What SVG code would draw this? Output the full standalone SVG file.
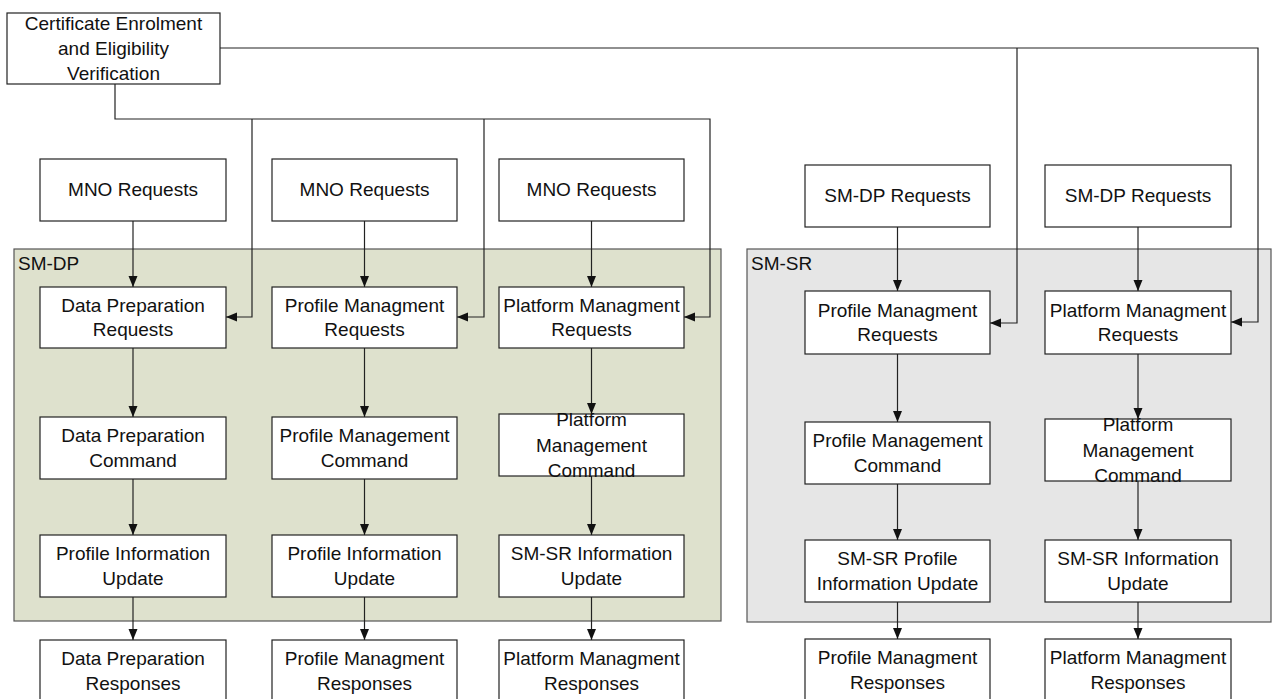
<svg xmlns="http://www.w3.org/2000/svg" width="1279" height="699" viewBox="0 0 1279 699">
<defs>
<style>
.box{fill:#fff;stroke:#222;stroke-width:1.2}
.t{font-family:"Liberation Sans",Arial,sans-serif;font-size:19px;fill:#111;text-anchor:middle}
.lbl{font-family:"Liberation Sans",Arial,sans-serif;font-size:19px;fill:#111}
.ln{fill:none;stroke:#222;stroke-width:1.2}
</style>
<marker id="ah" markerUnits="userSpaceOnUse" markerWidth="11" markerHeight="10" refX="11" refY="5" orient="auto">
<path d="M0,0.5 L11,5 L0,9.5 z" fill="#111"/>
</marker>
</defs>
<rect width="1279" height="699" fill="#fff"/>

<g id="smdp-container">
<rect x="14" y="249" width="707" height="372" fill="#dee1cd" stroke="#555" stroke-width="1.2"/>
<text class="lbl" x="18" y="270">SM-DP</text>
</g>
<g id="smsr-container">
<rect x="747" y="249" width="524" height="373" fill="#e6e6e6" stroke="#555" stroke-width="1.2"/>
<text class="lbl" x="751" y="270">SM-SR</text>
</g>

<g id="connectors">
<path class="ln" d="M220,48 H1258 V322 H1231" marker-end="url(#ah)"/>
<path class="ln" d="M1017,48 V323 H990" marker-end="url(#ah)"/>
<path class="ln" d="M115,84 V119 H710 V317 H684" marker-end="url(#ah)"/>
<path class="ln" d="M252,119 V317 H226" marker-end="url(#ah)"/>
<path class="ln" d="M484,119 V317 H457" marker-end="url(#ah)"/>
<path class="ln" d="M133,221 V287" marker-end="url(#ah)"/>
<path class="ln" d="M364.5,221 V287" marker-end="url(#ah)"/>
<path class="ln" d="M591.5,221 V287" marker-end="url(#ah)"/>
<path class="ln" d="M133,348 V417" marker-end="url(#ah)"/>
<path class="ln" d="M364.5,348 V417" marker-end="url(#ah)"/>
<path class="ln" d="M591.5,348 V414" marker-end="url(#ah)"/>
<path class="ln" d="M133,479 V535" marker-end="url(#ah)"/>
<path class="ln" d="M364.5,479 V535" marker-end="url(#ah)"/>
<path class="ln" d="M591.5,476 V535" marker-end="url(#ah)"/>
<path class="ln" d="M133,597 V640" marker-end="url(#ah)"/>
<path class="ln" d="M364.5,597 V640" marker-end="url(#ah)"/>
<path class="ln" d="M591.5,597 V640" marker-end="url(#ah)"/>
<path class="ln" d="M897.5,227 V291" marker-end="url(#ah)"/>
<path class="ln" d="M1138,227 V291" marker-end="url(#ah)"/>
<path class="ln" d="M897.5,354 V422" marker-end="url(#ah)"/>
<path class="ln" d="M1138,354 V419" marker-end="url(#ah)"/>
<path class="ln" d="M897.5,484 V540" marker-end="url(#ah)"/>
<path class="ln" d="M1138,481 V540" marker-end="url(#ah)"/>
<path class="ln" d="M897.5,602 V639" marker-end="url(#ah)"/>
<path class="ln" d="M1138,602 V639" marker-end="url(#ah)"/>
</g>

<g id="cert">
<rect class="box" x="7" y="13" width="213" height="71"/>
<text class="t" x="113.5" y="30">Certificate Enrolment</text>
<text class="t" x="113.5" y="55">and Eligibility</text>
<text class="t" x="113.5" y="80">Verification</text>
</g>

<g id="mno1"><rect class="box" x="40" y="159" width="186" height="62"/><text class="t" x="133" y="196">MNO Requests</text></g>
<g id="mno2"><rect class="box" x="272" y="159" width="185" height="62"/><text class="t" x="364.5" y="196">MNO Requests</text></g>
<g id="mno3"><rect class="box" x="499" y="159" width="185" height="62"/><text class="t" x="591.5" y="196">MNO Requests</text></g>
<g id="smdpreq1"><rect class="box" x="805" y="165" width="185" height="62"/><text class="t" x="897.5" y="202">SM-DP Requests</text></g>
<g id="smdpreq2"><rect class="box" x="1045" y="165" width="186" height="62"/><text class="t" x="1138" y="202">SM-DP Requests</text></g>

<g id="dp-req"><rect class="box" x="40" y="287" width="186" height="61"/><text class="t" x="133" y="311.5">Data Preparation</text><text class="t" x="133" y="336">Requests</text></g>
<g id="pm-req"><rect class="box" x="272" y="287" width="185" height="61"/><text class="t" x="364.5" y="311.5">Profile Managment</text><text class="t" x="364.5" y="336">Requests</text></g>
<g id="plm-req"><rect class="box" x="499" y="287" width="185" height="61"/><text class="t" x="591.5" y="311.5">Platform Managment</text><text class="t" x="591.5" y="336">Requests</text></g>

<g id="dp-cmd"><rect class="box" x="40" y="417" width="186" height="62"/><text class="t" x="133" y="442">Data Preparation</text><text class="t" x="133" y="467">Command</text></g>
<g id="pm-cmd"><rect class="box" x="272" y="417" width="185" height="62"/><text class="t" x="364.5" y="442">Profile Management</text><text class="t" x="364.5" y="467">Command</text></g>
<g id="plm-cmd"><rect class="box" x="499" y="414" width="185" height="62"/><text class="t" x="591.5" y="426">Platform</text><text class="t" x="591.5" y="451.5">Management</text><text class="t" x="591.5" y="476.5">Command</text></g>

<g id="dp-upd"><rect class="box" x="40" y="535" width="186" height="62"/><text class="t" x="133" y="560">Profile Information</text><text class="t" x="133" y="585">Update</text></g>
<g id="pm-upd"><rect class="box" x="272" y="535" width="185" height="62"/><text class="t" x="364.5" y="560">Profile Information</text><text class="t" x="364.5" y="585">Update</text></g>
<g id="plm-upd"><rect class="box" x="499" y="535" width="185" height="62"/><text class="t" x="591.5" y="560">SM-SR Information</text><text class="t" x="591.5" y="585">Update</text></g>

<g id="dp-resp"><rect class="box" x="40" y="640" width="186" height="62"/><text class="t" x="133" y="665">Data Preparation</text><text class="t" x="133" y="690">Responses</text></g>
<g id="pm-resp"><rect class="box" x="272" y="640" width="185" height="62"/><text class="t" x="364.5" y="665">Profile Managment</text><text class="t" x="364.5" y="690">Responses</text></g>
<g id="plm-resp"><rect class="box" x="499" y="640" width="185" height="62"/><text class="t" x="591.5" y="665">Platform Managment</text><text class="t" x="591.5" y="690">Responses</text></g>

<g id="sr-pm-req"><rect class="box" x="805" y="291" width="185" height="63"/><text class="t" x="897.5" y="316.5">Profile Managment</text><text class="t" x="897.5" y="341">Requests</text></g>
<g id="sr-plm-req"><rect class="box" x="1045" y="291" width="186" height="63"/><text class="t" x="1138" y="316.5">Platform Managment</text><text class="t" x="1138" y="341">Requests</text></g>

<g id="sr-pm-cmd"><rect class="box" x="805" y="422" width="185" height="62"/><text class="t" x="897.5" y="447">Profile Management</text><text class="t" x="897.5" y="472">Command</text></g>
<g id="sr-plm-cmd"><rect class="box" x="1045" y="419" width="186" height="62"/><text class="t" x="1138" y="431">Platform</text><text class="t" x="1138" y="456.5">Management</text><text class="t" x="1138" y="481.5">Command</text></g>

<g id="sr-pm-upd"><rect class="box" x="805" y="540" width="185" height="62"/><text class="t" x="897.5" y="565">SM-SR Profile</text><text class="t" x="897.5" y="590">Information Update</text></g>
<g id="sr-plm-upd"><rect class="box" x="1045" y="540" width="186" height="62"/><text class="t" x="1138" y="565">SM-SR Information</text><text class="t" x="1138" y="590">Update</text></g>

<g id="sr-pm-resp"><rect class="box" x="805" y="639" width="185" height="62"/><text class="t" x="897.5" y="664">Profile Managment</text><text class="t" x="897.5" y="689">Responses</text></g>
<g id="sr-plm-resp"><rect class="box" x="1045" y="639" width="186" height="62"/><text class="t" x="1138" y="664">Platform Managment</text><text class="t" x="1138" y="689">Responses</text></g>
</svg>
